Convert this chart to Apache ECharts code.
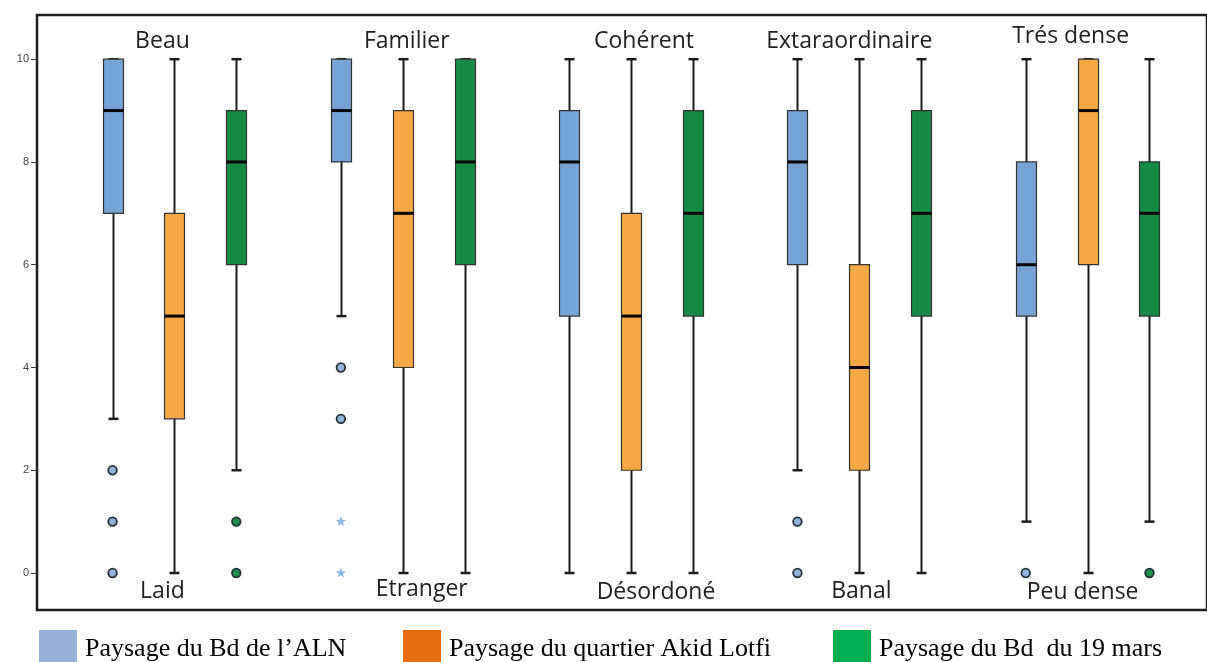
<!DOCTYPE html>
<html>
<head>
<meta charset="utf-8">
<script src="https://cdn.jsdelivr.net/npm/echarts@6/dist/echarts.min.js"></script>
<style>
html,body{margin:0;padding:0;background:#fff;}
#c{width:1207px;height:662px;}
</style>
</head>
<body>
<div id="c"></div>
<script>
// ---------------- DATA ----------------
const CATEGORIES_TOP = ['Beau', 'Familier', 'Cohérent', 'Extaraordinaire', 'Trés dense'];
const CATEGORIES_BOTTOM = ['Laid', 'Etranger', 'Désordoné', 'Banal', 'Peu dense'];
const SERIES_NAMES = ['Paysage du Bd de l\u2019ALN', 'Paysage du quartier Akid Lotfi', 'Paysage du Bd  du 19 mars'];
const Y_TICKS = [0, 2, 4, 6, 8, 10];

// [min, Q1, median, Q3, max] for each category
const boxALN  = [[3, 7, 9, 10, 10], [5, 8, 9, 10, 10], [0, 5, 8, 9, 10], [2, 6, 8, 9, 10], [1, 5, 6, 8, 10]];
const boxAkid = [[0, 3, 5, 7, 10], [0, 4, 7, 9, 10], [0, 2, 5, 7, 10], [0, 2, 4, 6, 10], [0, 6, 9, 10, 10]];
const box19   = [[2, 6, 8, 9, 10], [0, 6, 8, 10, 10], [0, 5, 7, 9, 10], [0, 5, 7, 9, 10], [1, 5, 7, 8, 10]];

// outliers [categoryIndex, value]
const outALN     = [[0, 2], [0, 1], [0, 0], [1, 4], [1, 3], [3, 1], [3, 0], [4, 0]];
const extremeALN = [[1, 1], [1, 0]];
const outAkid    = [];
const out19      = [[0, 1], [0, 0], [4, 0]];

// ---------------- STYLE / LAYOUT ----------------
const SERIES_OFFSET = [-0.271, 0, 0.271];
const BOX_FILL = ['#76A3D6', '#F5A843', '#148A43'];
const LEGEND_FILL = ['#95B3D7', '#E46C0A', '#00B050'];
const OUT_FILL = ['#8FB3DD', '#F5A843', '#1E8F4A'];
const TOP_NUDGE = [[-12, 1], [4, 1], [13, 1], [-10, 1], [-17, -4]];
const BOTTOM_NUDGE = [[-12, 0], [19, -2], [25, 1], [2, 0], [-5, 1]];

const chart = echarts.init(document.getElementById('c'), null, {renderer: 'canvas'});

function boxSeries(i, boxes) {
  return {
    type: 'custom',
    name: SERIES_NAMES[i],
    itemStyle: {color: BOX_FILL[i]},
    data: boxes.map((b, c) => [c].concat(b)),
    encode: {x: 0, y: [1, 2, 3, 4, 5]},
    clip: false,
    renderItem: function (params, api) {
      const x = api.value(0) + SERIES_OFFSET[i];
      const pMin = api.coord([x, api.value(1)]);
      const pQ1 = api.coord([x, api.value(2)]);
      const pMed = api.coord([x, api.value(3)]);
      const pQ3 = api.coord([x, api.value(4)]);
      const pMax = api.coord([x, api.value(5)]);
      const px = Math.round(pMin[0]) + 0.5;
      const hw = 10, cap = 5;
      const ink = '#1c1c1c';
      return {
        type: 'group',
        children: [
          {type: 'line', shape: {x1: px, y1: pMin[1], x2: px, y2: pQ1[1]}, style: {stroke: ink, lineWidth: 2}},
          {type: 'line', shape: {x1: px, y1: pQ3[1], x2: px, y2: pMax[1]}, style: {stroke: ink, lineWidth: 2}},
          {type: 'line', shape: {x1: px - cap, y1: pMin[1], x2: px + cap, y2: pMin[1]}, style: {stroke: ink, lineWidth: 2.5}},
          {type: 'line', shape: {x1: px - cap, y1: pMax[1], x2: px + cap, y2: pMax[1]}, style: {stroke: ink, lineWidth: 2.5}},
          {type: 'rect', shape: {x: px - hw, y: pQ3[1], width: 2 * hw, height: pQ1[1] - pQ3[1]},
            style: {fill: BOX_FILL[i], stroke: '#333', lineWidth: 1.2}},
          {type: 'line', shape: {x1: px - hw, y1: pMed[1], x2: px + hw, y2: pMed[1]}, style: {stroke: '#050505', lineWidth: 3}}
        ]
      };
    }
  };
}

function starPoints(cx, cy, R, r) {
  const pts = [];
  for (let k = 0; k < 10; k++) {
    const ang = -Math.PI / 2 + k * Math.PI / 5;
    const rad = k % 2 === 0 ? R : r;
    pts.push([cx + rad * Math.cos(ang), cy + rad * Math.sin(ang)]);
  }
  return pts;
}

function outlierSeries(i, pts, shape) {
  return {
    type: 'custom',
    name: SERIES_NAMES[i] + (shape === 'star' ? ' extremes' : ' outliers'),
    data: pts,
    encode: {x: 0, y: 1},
    clip: false,
    renderItem: function (params, api) {
      const p = api.coord([api.value(0) + SERIES_OFFSET[i], api.value(1)]);
      if (shape === 'star') {
        return {type: 'polygon', shape: {points: starPoints(p[0], p[1], 5.5, 2.3)}, style: {fill: '#8DB6E3'}};
      }
      return {type: 'circle', shape: {cx: p[0], cy: p[1], r: 4.3},
        style: {fill: OUT_FILL[i], stroke: '#263238', lineWidth: 1.8}};
    }
  };
}

const labelSeries = {
  type: 'custom',
  name: 'labels',
  data: CATEGORIES_TOP.map((t, c) => [c]),
  encode: {x: 0},
  clip: false,
  silent: true,
  renderItem: function (params, api) {
    const c = api.value(0);
    const idx = params.dataIndex;
    const pt = api.coord([c, 10.36]);
    const pb = api.coord([c, -0.35]);
    const font = {fontSize: 23, fontFamily: '"Open Sans", "Liberation Sans", sans-serif', fill: '#222', align: 'center', verticalAlign: 'middle'};
    return {
      type: 'group',
      children: [
        {type: 'text', x: pt[0] + TOP_NUDGE[idx][0], y: pt[1] + TOP_NUDGE[idx][1],
          style: Object.assign({text: CATEGORIES_TOP[idx]}, font)},
        {type: 'text', x: pb[0] + BOTTOM_NUDGE[idx][0], y: pb[1] + BOTTOM_NUDGE[idx][1],
          style: Object.assign({text: CATEGORIES_BOTTOM[idx]}, font)}
      ]
    };
  }
};

function legendFor(i, left) {
  return {
    data: [{name: SERIES_NAMES[i], icon: 'rect', itemStyle: {color: LEGEND_FILL[i], borderWidth: 0}}],
    left: left, top: 630, padding: 0,
    itemWidth: 38, itemHeight: 38,
    selectedMode: false,
    textStyle: {fontSize: 26, fontFamily: '"Liberation Serif", serif', color: '#000', padding: [0, 0, 0, 3]}
  };
}

const option = {
  animation: false,
  backgroundColor: '#fff',
  grid: {left: 37, right: -3, top: 15, bottom: 52, show: true, borderColor: '#1e1e1e', borderWidth: 2.5, backgroundColor: 'transparent'},
  xAxis: {type: 'value', min: -0.602, max: 4.523, show: false, axisLine: {onZero: false}},
  yAxis: {
    type: 'value', min: -0.72, max: 10.86,
    axisLine: {show: false, onZero: false},
    splitLine: {show: false},
    axisTick: {show: true, customValues: Y_TICKS, length: 6, lineStyle: {color: '#333', width: 1}},
    axisLabel: {customValues: Y_TICKS, fontSize: 11, color: '#444', margin: 8, fontFamily: '"Liberation Sans", Arial, sans-serif'}
  },
  legend: [legendFor(0, 39), legendFor(1, 403), legendFor(2, 833)],
  series: [
    boxSeries(0, boxALN),
    boxSeries(1, boxAkid),
    boxSeries(2, box19),
    outlierSeries(0, outALN, 'circle'),
    outlierSeries(0, extremeALN, 'star'),
    outlierSeries(1, outAkid, 'circle'),
    outlierSeries(2, out19, 'circle'),
    labelSeries
  ]
};
chart.setOption(option);
</script>
</body>
</html>
